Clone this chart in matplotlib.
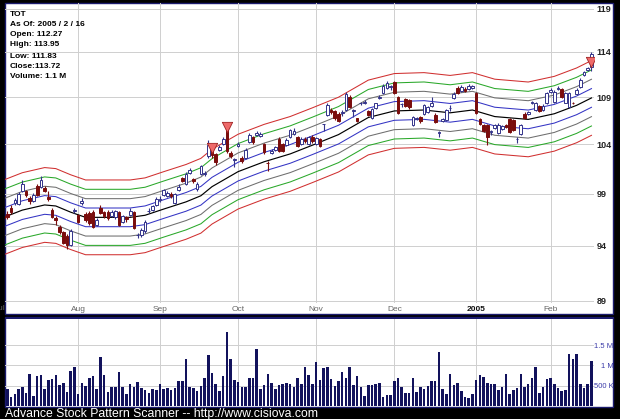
import matplotlib
matplotlib.use("Agg")
import matplotlib.pyplot as plt
from matplotlib.patches import Rectangle
from matplotlib.ticker import NullLocator, NullFormatter
import math

plt.rcParams['font.family'] = ['Liberation Sans', 'DejaVu Sans']

# ---------------- data ----------------
days = list(range(1, 160))
opens = [96.8, 97.0, 97.6, 98.1, 98.0, 99.3, 99.3, 98.6, 98.3, 99.8,
         99.7, 99.6, 98.7, 97.4, 96.6, 95.8, 95.3, 94.9, 94.1, 97.35,
         96.9, 98.1, 97.0, 97.1, 97.2, 96.0, 97.6, 97.2, 97.2, 96.8,
         96.7, 97.2, 96.3, 96.7, 96.9, 97.2, 95.0, 95.0, 95.4, 97.3,
         97.4, 97.9, 98.4, 98.9, 98.8, 99.0, 98.1, 99.4, 100.6, 100.0,
         101.1, 100.5, 99.5, 101.0, 101.0, 102.8, 103.5, 103.0, 103.4, 104.0,
         105.6, 103.1, 102.4, 103.8, 102.6, 102.6, 104.2, 104.7, 105.0, 104.9,
         104.0, 102.1, 103.1, 103.4, 104.5, 104.0, 103.9, 104.7, 105.1, 104.7,
         104.0, 104.5, 104.0, 104.8, 104.0, 104.5, 106.1, 107.1, 107.6, 107.5,
         107.2, 107.3, 107.6, 109.0, 107.5, 106.7, 108.3, 108.3, 107.5, 106.7,
         107.8, 108.9, 109.4, 110.0, 110.1, 110.6, 109.0, 108.2, 108.8, 108.7,
         106.0, 106.6, 106.9, 107.2, 107.4, 108.0, 107.1, 105.2, 106.4, 106.5,
         107.8, 108.9, 110.0, 109.7, 109.9, 109.9, 110.0, 109.4, 106.6, 106.0,
         106.0, 105.3, 105.7, 105.2, 105.6, 106.0, 106.6, 106.5, 104.5, 105.1,
         107.2, 107.2, 108.4, 107.6, 108.0, 107.6, 108.3, 109.5, 108.5, 109.9,
         109.9, 108.4, 107.9, 108.4, 109.3, 110.1, 111.4, 112.0, 112.27]
highs = [97.0, 97.3, 97.9, 98.6, 99.2, 100.4, 99.4, 98.8, 99.1, 100.0,
         100.8, 99.8, 99.3, 97.6, 96.8, 96.0, 95.4, 95.1, 95.6, 97.6,
         97.0, 98.6, 97.2, 97.3, 97.4, 96.6, 97.9, 97.3, 97.4, 97.4,
         97.4, 97.3, 96.9, 96.8, 97.6, 97.3, 95.2, 95.7, 96.4, 97.6,
         97.9, 98.7, 98.8, 99.5, 99.3, 99.2, 99.1, 100.0, 100.7, 101.2,
         101.6, 100.6, 100.2, 101.9, 101.3, 104.4, 103.7, 103.1, 103.9, 104.7,
         105.9, 103.3, 102.6, 104.2, 102.8, 103.6, 105.2, 104.9, 105.4, 105.3,
         104.1, 102.3, 103.5, 103.8, 104.7, 104.1, 104.6, 105.6, 105.7, 104.9,
         104.7, 104.8, 104.9, 105.0, 104.8, 104.6, 106.15, 108.4, 107.8, 107.6,
         107.4, 107.6, 109.5, 109.2, 107.7, 106.8, 108.5, 108.7, 107.6, 107.8,
         108.4, 109.2, 110.4, 110.7, 110.3, 110.7, 109.1, 108.4, 108.9, 108.8,
         107.0, 106.9, 107.0, 108.2, 108.0, 109.0, 107.3, 105.4, 106.7, 107.7,
         108.1, 109.5, 110.2, 110.3, 110.1, 110.4, 110.3, 109.6, 106.8, 106.1,
         106.1, 105.5, 106.1, 106.2, 106.0, 106.1, 106.7, 106.6, 104.7, 106.1,
         107.4, 107.5, 108.6, 108.5, 108.1, 108.2, 109.6, 110.0, 109.8, 110.2,
         110.0, 109.6, 109.6, 108.5, 110.0, 111.1, 111.9, 112.3, 113.95]
lows = [96.4, 96.5, 97.0, 97.9, 97.9, 99.2, 98.7, 98.0, 98.2, 98.8,
        99.6, 99.2, 98.3, 96.6, 96.0, 95.1, 94.2, 93.7, 94.0, 97.1,
        96.2, 97.9, 96.3, 96.0, 95.7, 95.9, 97.0, 96.6, 96.4, 96.7,
        96.5, 95.9, 96.2, 96.3, 96.8, 95.6, 94.7, 94.8, 95.2, 97.1,
        97.3, 97.8, 98.2, 98.8, 98.7, 98.6, 98.0, 99.3, 100.2, 99.9,
        101.0, 100.1, 99.3, 100.9, 100.8, 102.6, 102.6, 101.9, 103.3, 103.9,
        103.1, 102.6, 101.7, 103.7, 102.1, 102.5, 104.1, 104.0, 104.9, 104.8,
        103.0, 101.3, 103.0, 103.3, 103.2, 103.2, 103.8, 104.6, 105.0, 103.7,
        103.9, 104.1, 103.9, 104.1, 103.9, 103.7, 105.4, 107.0, 107.2, 106.5,
        106.3, 107.0, 107.5, 107.8, 106.9, 106.3, 108.1, 108.2, 107.0, 106.6,
        107.7, 108.8, 109.3, 109.9, 109.8, 109.3, 107.2, 107.9, 107.9, 107.7,
        105.9, 106.5, 106.2, 107.1, 107.3, 107.9, 106.2, 104.7, 106.3, 106.4,
        107.5, 108.8, 109.3, 109.6, 109.6, 109.8, 109.9, 107.2, 106.0, 105.3,
        103.9, 105.0, 105.6, 105.1, 105.5, 105.7, 105.2, 105.4, 104.1, 105.0,
        106.6, 107.1, 108.2, 107.5, 107.4, 107.5, 108.2, 109.4, 108.4, 109.8,
        108.9, 108.3, 107.8, 108.2, 109.2, 110.0, 111.3, 111.9, 111.83]
closes = [96.6, 96.7, 97.2, 98.4, 99.0, 100.0, 98.9, 98.3, 98.9, 98.9,
          100.4, 99.3, 98.5, 96.7, 96.4, 95.3, 94.3, 94.1, 95.4, 97.45,
          96.3, 98.3, 96.4, 96.2, 95.8, 96.4, 97.1, 96.8, 96.6, 97.2,
          97.3, 96.0, 96.8, 96.5, 97.3, 95.7, 95.05, 95.5, 96.3, 97.35,
          97.8, 98.5, 98.45, 99.4, 99.1, 98.8, 99.0, 99.7, 100.3, 101.0,
          101.4, 100.3, 100.0, 101.8, 101.05, 103.9, 102.9, 102.2, 103.7, 104.5,
          103.3, 102.8, 102.45, 104.0, 102.3, 103.4, 105.0, 104.2, 105.2, 105.1,
          103.2, 102.05, 103.3, 103.7, 103.3, 103.3, 104.4, 105.5, 105.4, 103.8,
          104.5, 104.3, 104.7, 104.3, 104.6, 103.8, 106.1, 108.1, 107.4, 106.7,
          106.4, 107.35, 109.3, 107.9, 107.55, 106.4, 108.35, 108.5, 107.1, 107.7,
          108.3, 109.0, 110.2, 110.5, 110.15, 109.4, 107.3, 108.25, 108.0, 107.9,
          106.9, 106.8, 106.4, 108.1, 107.9, 108.3, 106.3, 105.25, 106.6, 107.6,
          107.85, 109.3, 109.4, 110.1, 109.7, 110.2, 110.2, 107.3, 106.1, 105.4,
          104.7, 105.35, 106.0, 106.0, 105.9, 105.8, 105.3, 105.5, 104.55, 106.0,
          106.8, 107.4, 108.45, 108.3, 107.5, 108.0, 109.4, 109.8, 109.6, 110.0,
          109.0, 109.4, 109.4, 108.3, 109.8, 110.9, 111.7, 112.2, 113.72]
volume_m = [0.41, 0.41, 0.23, 0.30, 0.41, 0.46, 0.33, 0.79, 0.25, 0.74,
            0.76, 0.41, 0.64, 0.66, 0.76, 0.52, 0.56, 0.35, 0.87, 0.97,
            0.29, 0.56, 0.49, 0.68, 0.74, 0.41, 1.20, 0.76, 0.35, 0.46,
            0.46, 0.84, 0.46, 0.29, 0.53, 0.46, 0.59, 0.44, 0.39, 0.33,
            0.43, 0.39, 0.53, 0.42, 0.45, 0.40, 0.44, 0.62, 0.62, 1.15,
            0.46, 0.44, 0.38, 0.49, 0.69, 1.25, 0.82, 0.54, 0.38, 0.75,
            1.82, 1.16, 0.64, 0.58, 0.46, 0.48, 0.69, 0.69, 1.40, 0.41,
            0.52, 0.79, 0.56, 0.42, 0.52, 0.54, 0.57, 0.54, 0.48, 0.69,
            0.53, 0.95, 0.76, 0.53, 1.08, 0.64, 0.94, 0.95, 0.67, 0.49,
            0.62, 0.84, 0.68, 0.95, 0.52, 0.74, 0.46, 0.25, 0.52, 0.52,
            0.53, 0.56, 0.23, 0.27, 0.27, 0.62, 0.70, 0.47, 0.33, 0.33,
            0.70, 0.34, 0.46, 0.43, 0.49, 0.62, 0.62, 1.33, 0.42, 0.30,
            0.80, 0.52, 0.57, 0.38, 0.21, 0.19, 0.29, 0.64, 0.76, 0.71,
            0.56, 0.55, 0.54, 0.39, 0.46, 0.80, 0.30, 0.39, 0.45, 0.80,
            0.48, 0.53, 0.68, 0.95, 0.33, 0.46, 0.66, 0.70, 0.53, 0.45,
            0.38, 0.39, 1.27, 1.16, 1.28, 0.54, 0.45, 0.54, 1.11]

center_days = [1, 6, 12, 15, 19, 23, 35, 39, 44, 50, 54, 57, 64, 71, 78, 84,
               91, 99, 106, 114, 121, 127, 133, 142, 149, 155, 159]
center_vals = [96.7, 97.4, 97.9, 97.8, 97.2, 96.7, 96.7, 96.9, 97.5, 98.2, 98.8,
               99.7, 101.2, 102.2, 103.0, 103.9, 105.0, 106.8, 107.5, 107.6,
               107.3, 107.6, 106.9, 106.6, 107.2, 108.1, 108.9]
band_steps = [1, 2, 3, 4]
band_colors = ['#3434c4', '#6e6e6e', '#2aa82a', '#d03030']
band_width = 0.0093

signal_days = [57, 61, 159]
signal_prices = [103.6, 105.8, 112.9]

month_days = [21, 43, 64, 85, 106, 128, 148]
month_labels = ['Aug', 'Sep', 'Oct', 'Nov', 'Dec', '2005', 'Feb']
price_ticks = [89, 94, 99, 104, 109, 114, 119]
vol_ticks = [0.5, 1.0, 1.5]
vol_tick_labels = ['500 K', '1 M', '1.5 M']

info_lines = ['TOT', 'As Of: 2005 / 2 / 16', 'Open: 112.27', 'High: 113.95',
              'Low: 111.83', 'Close:113.72', 'Volume: 1.1 M']
footer = 'Advance Stock Pattern Scanner -- http://www.cisiova.com'

# ---------------- figure ----------------
W, H = 620, 419
fig = plt.figure(figsize=(W / 100, H / 100), dpi=100, facecolor='black')


def fbox(l, t, r, b):
    return [l / W, 1 - b / H, (r - l) / W, (b - t) / H]


navy = '#1b1b6e'
top_bg = Rectangle((5 / W, 1 - 314 / H), 608 / W, 311 / H, transform=fig.transFigure,
                   facecolor='white', edgecolor=navy, lw=1.0, zorder=0)
vol_bg = Rectangle((5 / W, 1 - 407 / H), 608 / W, 90 / H, transform=fig.transFigure,
                   facecolor='white', edgecolor=navy, lw=1.0, zorder=0)
fig.add_artist(top_bg)
fig.add_artist(vol_bg)
fig.add_artist(Rectangle((5 / W, 1 - 318.5 / H), 608 / W, 1.5 / H, transform=fig.transFigure,
                         facecolor=navy, edgecolor='none', zorder=1))

xlim = (1.344, 159.68)
grid_c = '#cfcfcf'

ax = fig.add_axes(fbox(5, 3, 594, 303))
ax.set_facecolor('none')
for s in ax.spines.values():
    s.set_visible(False)
ax.set_yscale('log')
ax.set_ylim(88.8, 119.69)
ax.set_xlim(*xlim)
ax.yaxis.set_minor_locator(NullLocator())
ax.yaxis.set_minor_formatter(NullFormatter())
ax.set_yticks(price_ticks)
ax.set_yticklabels([str(t) for t in price_ticks])
ax.yaxis.tick_right()
ax.tick_params(axis='y', length=0, pad=2.0, labelsize=6.5, labelcolor='#222222')
for lbl in ax.get_yticklabels():
    lbl.set_fontweight('bold')
ax.set_xticks(month_days)
ax.set_xticklabels(month_labels)
ax.tick_params(axis='x', length=0, pad=2.2, labelsize=6, labelcolor='#666666')
for lbl in ax.get_xticklabels():
    if lbl.get_text() == '2005':
        lbl.set_fontweight('bold')
        lbl.set_color('#111111')
ax.grid(True, color=grid_c, lw=0.7)
ax.set_axisbelow(True)

# Jul label, mostly hidden behind the left frame
jul = ax.text(0, -0.0075, 'Jul', transform=ax.get_xaxis_transform(), ha='center', va='top',
              fontsize=6, color='#666666')
jul.set_clip_path(top_bg)

# bands
for k, col in zip(band_steps, band_colors):
    up = [v * math.exp(k * band_width) for v in center_vals]
    dn = [v * math.exp(-k * band_width) for v in center_vals]
    ax.plot(center_days, up, color=col, lw=0.75, zorder=2)
    ax.plot(center_days, dn, color=col, lw=0.75, zorder=2)
ax.plot(center_days, center_vals, color='black', lw=0.85, zorder=2)

# candles
up_edge = '#33338a'
dn_col = '#7a0d0d'
edge_cols = [up_edge if c >= o else dn_col for o, c in zip(opens, closes)]
fill_cols = ['white' if c >= o else dn_col for o, c in zip(opens, closes)]
ax.vlines(days, lows, highs, colors=edge_cols, lw=0.8, zorder=3)
bottoms = [min(o, c) for o, c in zip(opens, closes)]
heights = [max(abs(c - o), 0.05) for o, c in zip(opens, closes)]
ax.bar(days, heights, bottom=bottoms, width=0.72, color=fill_cols,
       edgecolor=edge_cols, lw=0.7, zorder=4)

ax.scatter(signal_days, signal_prices, marker='v', s=55, c='#ee6a6a',
           edgecolors='#a02020', linewidths=0.6, zorder=5)

# info text
info_y = [15, 25, 35, 45, 56, 67, 77]
for s, y in zip(info_lines, info_y):
    fig.text(10 / W, 1 - y / H, s, fontsize=6, fontweight='bold', va='center',
             ha='left', color='black')

# volume
axv = fig.add_axes(fbox(5, 318, 594, 406))
axv.set_facecolor('none')
for s in axv.spines.values():
    s.set_visible(False)
axv.set_xlim(*xlim)
axv.set_ylim(0, 2.167)
axv.bar(days, volume_m, width=0.68, color='#12125c', zorder=3)
axv.set_xticks(month_days)
axv.set_xticklabels([])
axv.tick_params(axis='x', length=0)
axv.set_yticks(vol_ticks)
axv.set_yticklabels(vol_tick_labels)
axv.yaxis.tick_right()
axv.tick_params(axis='y', length=0, pad=14.0, labelsize=5.5, labelcolor='#3a3aa8')
for lbl in axv.get_yticklabels():
    lbl.set_horizontalalignment('right')
axv.grid(True, color=grid_c, lw=0.7)
axv.set_axisbelow(True)

fig.text(5 / W, 1 - 413.5 / H, footer, color='white', fontsize=8.8, va='center', ha='left')

fig.savefig('out.png', dpi=100, facecolor='black')
